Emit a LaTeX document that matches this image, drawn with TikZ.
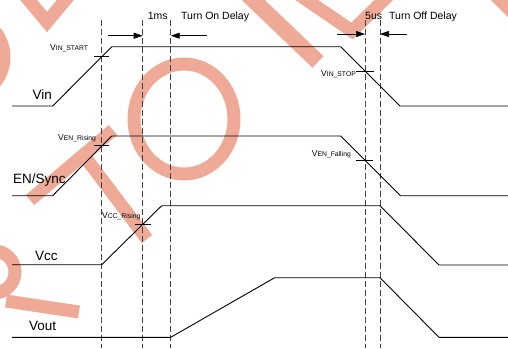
\documentclass[tikz,border=0pt]{standalone}
\usepackage{fontspec}
\setmainfont{Liberation Sans}
\usetikzlibrary{arrows.meta}

\definecolor{wmark}{RGB}{238,170,150}
\newcommand\vsub[1]{{\fontsize{6.8}{8}\selectfont #1}}

\tikzset{
  sig/.style={line width=0.9pt},
  guide/.style={line width=0.7pt, black!75, dash pattern=on 6pt off 3pt},
  tickmark/.style={line width=0.6pt},
  delay/.style={line width=0.7pt, -{Triangle[length=9pt,width=6pt]}},
  wm/.style={wmark, line width=13pt},
  signame/.style={anchor=base west, inner sep=0pt, font=\fontsize{13.5}{15}\selectfont},
  levelname/.style={anchor=base west, inner sep=0pt, font=\fontsize{8.5}{10}\selectfont},
  delayname/.style={anchor=base west, inner sep=0pt, font=\fontsize{10.5}{12}\selectfont},
}

\begin{document}
\begin{tikzpicture}[x=1pt,y=-1pt]
\useasboundingbox (0,0) rectangle (508,348);
\clip (0,0) rectangle (508,348);

% watermark
\draw[wm] (22,-8) -- (47,22) -- (72,-8);
\draw[wm] (-36,57) circle (40);
\draw[wm] (113,130) -- (30,200);
\draw[wm] (85,157) -- (147,239);
\draw[wm] (184,119) ellipse (50 and 55);
\draw[wm, line width=16pt] (248,-5) -- (318,62);
\draw[wm] (298,-6) -- (352,31) -- (390,-6);
\draw[wm] (492,-8) -- (516,16);
\draw[wm] (-6,272) circle (21);
\draw[wm] (6,301) -- (79,312);

% guides
\foreach \n/\x in {ga/101.7,gb/142.7,gc/170.7,gd/365,ge/380}{
  \coordinate (\n) at (\x,20);
  \draw[guide] (\n) -- (\x,348);
}

% signals
\draw[sig] (12,106) -- (52.7,106) -- (111.7,46.7) -- (340.7,46.7) -- (400,106) -- (508,106);
\draw[sig] (12,195.7) -- (52.7,195.7) -- (111.7,136) -- (340.7,136) -- (400.5,195.7) -- (508,195.7);
\draw[sig] (12,264.7) -- (101.7,264.7) -- (161.7,205.7) -- (380,205.7) -- (439,265) -- (508,265);
\draw[sig] (12,337.3) -- (170.7,337.3) -- (274.7,277.7) -- (380,277.7) -- (439,337.3) -- (508,337.3);

% thresholds
\draw[tickmark] (94,56) -- (109,56);
\draw[tickmark] (94,145) -- (109,145);
\draw[tickmark] (135,224.5) -- (151,224.5);
\draw[tickmark] (356,71) -- (374,71);
\draw[tickmark] (356,160) -- (373,160);

\node[levelname] (vinstart) at (50,50.7) {V\vsub{IN\_START}};
\node[levelname] (venrise) at (58,140.7) {V\vsub{EN\_Rising}};
\node[levelname] (vccrise) at (102,218.7) {V\vsub{CC\_Rising}};
\node[levelname] (vinstop) at (321,76.7) {V\vsub{IN\_STOP}};
\node[levelname] (venfall) at (311.7,156) {V\vsub{EN\_Falling}};

% names
\node[signame] (vin) at (32.5,99.3) {Vin};
\node[signame] (ensync) at (13,183) {EN/Sync};
\node[signame] (vcc) at (35,260) {Vcc};
\node[signame] (vout) at (29,330.7) {Vout};

% delays
\coordinate (ona) at (108,35.7);
\coordinate (onb) at (207,35.7);
\coordinate (offa) at (337,34);
\coordinate (offb) at (407,34);
\draw[delay] (ona) -- (gb |- ona);
\draw[delay] (onb) -- (gc |- onb);
\draw[delay] (offa) -- (gd |- offa);
\draw[delay] (offb) -- (ge |- offb);

\node[delayname] (onms) at (147.7,19) {1ms};
\node[delayname] (ontxt) at (181,19) {Turn On Delay};
\node[delayname] (offus) at (365,19) {5us};
\node[delayname] (offtxt) at (389,19) {Turn Off Delay};
\end{tikzpicture}
\end{document}
